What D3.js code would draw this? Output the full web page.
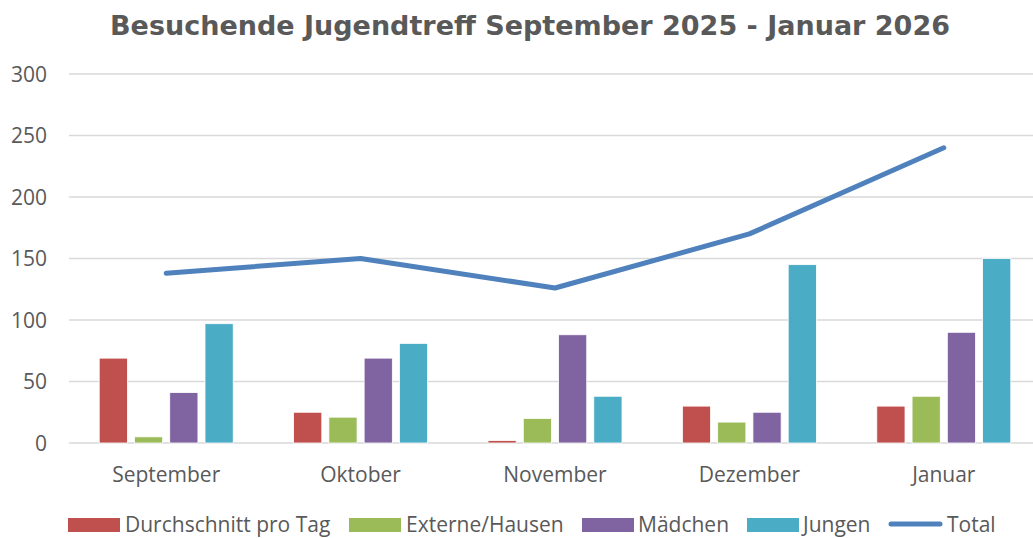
<!DOCTYPE html>
<html>
<head>
<meta charset="utf-8">
<script src="https://cdn.jsdelivr.net/npm/d3@7"></script>
<style>
body{margin:0;background:#fff;}
</style>
</head>
<body>
<div id="chart"></div>
<script>
var months=['September','Oktober','November','Dezember','Januar'];
var seriesNames=['Durchschnitt pro Tag','Externe/Hausen','Mädchen','Jungen'];
var durchschnitt=[69,25,2,30,30];
var externe=[5,21,20,17,38];
var maedchen=[41,69,88,25,90];
var jungen=[97,81,38,145,150];
var total=[138,150,126,170,240];
var yTicks=[0,50,100,150,200,250,300];
var colors=['#C0504D','#9BBB59','#8064A2','#4BACC6'];
var lineColor='#4F81BD';

var width=1033,height=538;
var svg=d3.select("#chart").append("svg")
  .attr("width",width).attr("height",height);

var x0=d3.scaleBand().domain(months).range([69,1041]);
var x1=d3.scaleBand().domain(seriesNames).range([0,134]).paddingInner(0.2);
var y=d3.scaleLinear().domain([0,300]).range([443,74]);

// gridlines
svg.append("g").selectAll("line").data(yTicks).join("line")
  .attr("x1",69).attr("x2",width)
  .attr("y1",function(d){return y(d);}).attr("y2",function(d){return y(d);})
  .attr("stroke","#d9d9d9").attr("stroke-width",1.5);

// y labels
svg.append("g").selectAll("text").data(yTicks).join("text")
  .attr("x",47).attr("y",function(d){return y(d);})
  .attr("dy","0.36em").attr("text-anchor","end")
  .attr("font-family","Open Sans, sans-serif").attr("font-size",21)
  .attr("fill","#595959").text(function(d){return d;});

// x labels
svg.append("g").selectAll("text").data(months).join("text")
  .attr("x",function(d){return x0(d)+x0.bandwidth()/2;}).attr("y",482)
  .attr("text-anchor","middle")
  .attr("font-family","Open Sans, sans-serif").attr("font-size",21)
  .attr("fill","#595959").text(function(d){return d;});

var data=[durchschnitt,externe,maedchen,jungen];
var groups=svg.append("g").selectAll("g").data(months).join("g")
  .attr("transform",function(d){return "translate("+(x0(d)+x0.bandwidth()/2-67)+",0)";});
groups.selectAll("rect").data(function(d,i){
    return seriesNames.map(function(s,j){return {s:s,v:data[j][i],c:colors[j]};});
  }).join("rect")
  .attr("x",function(d){return x1(d.s);})
  .attr("width",x1.bandwidth())
  .attr("y",function(d){return y(d.v);})
  .attr("height",function(d){return y(0)-y(d.v);})
  .attr("fill",function(d){return d.c;})
  .attr("stroke","#fff").attr("stroke-width",0.8);

// total line
var line=d3.line()
  .x(function(d,i){return x0(months[i])+x0.bandwidth()/2;})
  .y(function(d){return y(d);});
svg.append("path").datum(total)
  .attr("d",line).attr("fill","none")
  .attr("stroke",lineColor).attr("stroke-width",5)
  .attr("stroke-linecap","round").attr("stroke-linejoin","round");

// title
svg.append("text").attr("x",530).attr("y",35)
  .attr("text-anchor","middle")
  .attr("font-family","DejaVu Sans, Verdana, sans-serif")
  .attr("font-weight","bold").attr("font-size",27)
  .attr("fill","#595959")
  .text("Besuchende Jugendtreff September 2025 - Januar 2026");

// legend
var legendItems=[
  {name:'Durchschnitt pro Tag',c:colors[0],x:68,tx:125},
  {name:'Externe/Hausen',c:colors[1],x:349,tx:406},
  {name:'Mädchen',c:colors[2],x:582,tx:638},
  {name:'Jungen',c:colors[3],x:747,tx:803},
  {name:'Total',c:lineColor,x:888,tx:947,line:true}
];
var legend=svg.append("g");
legendItems.forEach(function(d){
  if(d.line){
    legend.append("line").attr("x1",d.x+3).attr("x2",d.x+52)
      .attr("y1",524).attr("y2",524)
      .attr("stroke",d.c).attr("stroke-width",5).attr("stroke-linecap","round");
  }else{
    legend.append("rect").attr("x",d.x).attr("y",518).attr("width",52).attr("height",14).attr("fill",d.c);
  }
  legend.append("text").attr("x",d.tx).attr("y",532)
    .attr("font-family","Open Sans, sans-serif").attr("font-size",21)
    .attr("fill","#595959").text(d.name);
});
</script>
</body>
</html>
